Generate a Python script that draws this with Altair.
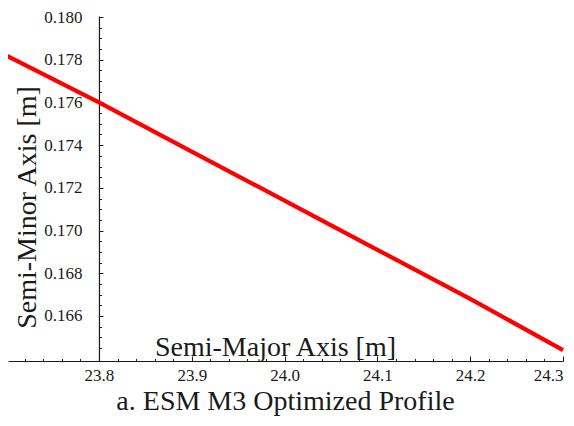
import altair as alt
import pandas as pd

# ---- data ----
semi_major = [23.7, 23.8, 23.9, 24.0, 24.1, 24.2, 24.3]
semi_minor = [0.1782, 0.1760, 0.1737, 0.1714, 0.1691, 0.1668, 0.1644]

x_major_ticks = [23.8, 23.9, 24.0, 24.1, 24.2, 24.3]
y_major_ticks = [0.166, 0.168, 0.170, 0.172, 0.174, 0.176, 0.178, 0.180]
x_minor_ticks = [23.72, 23.74, 23.76, 23.78, 23.82, 23.84, 23.86, 23.88,
                 23.92, 23.94, 23.96, 23.98, 24.02, 24.04, 24.06, 24.08,
                 24.12, 24.14, 24.16, 24.18, 24.22, 24.24, 24.26, 24.28]
y_minor_ticks = [0.1645, 0.1650, 0.1655, 0.1665, 0.1670, 0.1675, 0.1685,
                 0.1690, 0.1695, 0.1705, 0.1710, 0.1715, 0.1725, 0.1730,
                 0.1735, 0.1745, 0.1750, 0.1755, 0.1765, 0.1770, 0.1775,
                 0.1785, 0.1790, 0.1795]

df = pd.DataFrame({"a": semi_major, "b": semi_minor})

FONT = "Liberation Serif"
INK = "#1a1a1a"
W, H = 555, 345
X_DOMAIN = [23.702, 24.3]
Y_DOMAIN = [0.16389, 0.18005]
CROSS_X = 23.8
cross_px = (CROSS_X - X_DOMAIN[0]) / (X_DOMAIN[1] - X_DOMAIN[0]) * W

xs = alt.Scale(domain=X_DOMAIN, nice=False, zero=False)
ys = alt.Scale(domain=Y_DOMAIN, nice=False, zero=False)

x_is_major = "abs(datum.value * 10 - round(datum.value * 10)) < 0.000001"
y_is_major = "abs(datum.value * 500 - round(datum.value * 500)) < 0.000001"

base = alt.Chart(df)

# line with the labelled axes (no ticks)
line = base.mark_line(color="#ff0000", strokeWidth=4.2, clip=False).encode(
    x=alt.X("a:Q", scale=xs, axis=alt.Axis(
        orient="bottom", values=x_major_ticks, format=".1f", ticks=False,
        grid=False, domainColor=INK, domainWidth=1.2,
        labelFont=FONT, labelFontSize=17, labelColor=INK, labelPadding=6,
        labelFlush=False, labelOverlap=False,
        labelAlign={"condition": {"test": "datum.value >= 24.29", "value": "right"},
                    "value": "center"},
        title="Semi-Major Axis [m]", titleFont=FONT, titleFontSize=28,
        titleFontWeight="normal", titleColor=INK, titleX=267, titleY=-6,
        titleBaseline="alphabetic", titleAlign="center")),
    y=alt.Y("b:Q", scale=ys, axis=alt.Axis(
        orient="left", values=y_major_ticks, format=".3f", ticks=False,
        grid=False, offset=-cross_px, domainColor=INK, domainWidth=1.2,
        labelFont=FONT, labelFontSize=17, labelColor=INK, labelPadding=17,
        labelOverlap=False,
        title="Semi-Minor Axis [m]", titleFont=FONT, titleFontSize=28,
        titleFontWeight="normal", titleColor=INK, titleX=-63, titleY=191,
        titleAngle=270, titleBaseline="alphabetic", titleAlign="center")),
)

# invisible layer carrying the inward-pointing tick marks
ticks = base.mark_line(opacity=0).encode(
    x=alt.X("a:Q", scale=xs, title=None, axis=alt.Axis(
        orient="top", offset=-H, values=sorted(x_minor_ticks + x_major_ticks),
        labels=False, domain=False, grid=False, tickColor=INK,
        tickSize={"condition": {"test": x_is_major, "value": 5}, "value": 2.5})),
    y=alt.Y("b:Q", scale=ys, title=None, axis=alt.Axis(
        orient="right", offset=-(W - cross_px),
        values=sorted(y_minor_ticks + y_major_ticks),
        labels=False, domain=False, grid=False, tickColor=INK,
        tickSize={"condition": {"test": y_is_major, "value": 4}, "value": 2.5})),
)

chart = alt.layer(ticks, line).resolve_scale(
    x="independent", y="independent"
).properties(
    width=W, height=H, autosize="none",
    padding={"left": 0, "top": 8, "right": 3, "bottom": 57},
    title=alt.TitleParams(
        text="a. ESM M3 Optimized Profile", orient="bottom", anchor="middle",
        font=FONT, fontSize=28, fontWeight="normal", color=INK,
        baseline="alphabetic", offset=27),
).configure_view(strokeWidth=0).configure_axis(labelFont=FONT)

chart.save("out.html", embed_options={"renderer": "svg", "actions": False})
